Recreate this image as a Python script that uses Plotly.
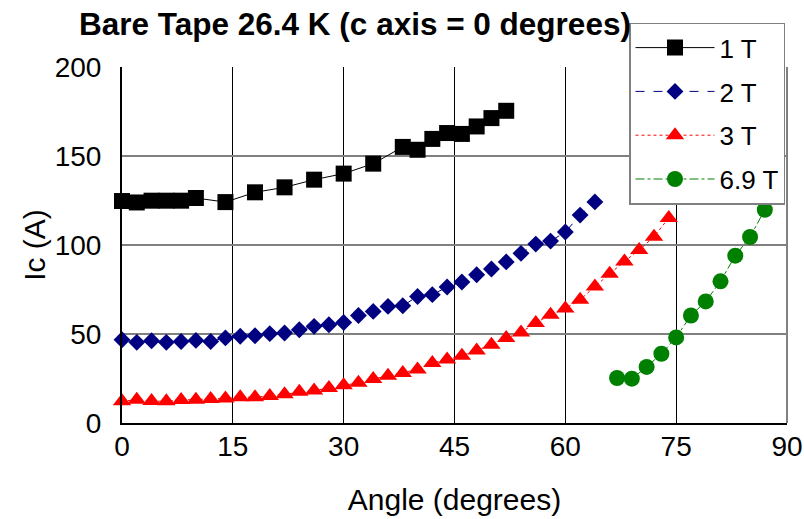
import plotly.graph_objects as go

# ---- data ----
angle_1T = [0, 2, 4, 6, 8, 10, 14, 18, 22, 26, 30, 34, 38, 40, 42, 44, 46, 48, 50, 52]
ic_1T = [124.7, 123.9, 124.9, 124.9, 124.9, 126.4, 124.1, 129.6, 132.4, 136.7,
         140.1, 145.7, 155.1, 153.5, 159.6, 162.9, 162.4, 166.6, 171.3, 175.4]

angle_2T = [0, 2, 4, 6, 8, 10, 12, 14, 16, 18, 20, 22, 24, 26, 28, 30, 32, 34, 36, 38,
            40, 42, 44, 46, 48, 50, 52, 54, 56, 58, 60, 62, 64]
ic_2T = [46.8, 45.3, 46.2, 45.3, 45.8, 46.4, 45.8, 47.8, 48.7, 49.0, 50.2, 50.6, 52.4,
         54.3, 55.2, 56.5, 60.4, 62.7, 65.5, 65.9, 71.1, 72.1, 76.4, 79.2, 83.3, 86.5,
         90.5, 95.3, 100.5, 102.2, 107.3, 116.8, 124.2]

angle_3T = [0, 2, 4, 6, 8, 10, 12, 14, 16, 18, 20, 22, 24, 26, 28, 30, 32, 34, 36, 38,
            40, 42, 44, 46, 48, 50, 52, 54, 56, 58, 60, 62, 64, 66, 68, 70, 72, 74]
ic_3T = [12.2, 13.1, 12.3, 12.2, 12.9, 13.1, 13.5, 13.8, 14.5, 14.5, 15.2, 16.2, 17.5,
         18.2, 19.7, 21.2, 22.6, 24.7, 26.6, 28.1, 30.1, 33.7, 35.7, 37.8, 40.8, 44.0,
         47.7, 50.9, 56.2, 60.8, 64.3, 69.2, 76.7, 83.9, 90.8, 97.2, 104.7, 115.2]

angle_69T = [67, 69, 71, 73, 75, 77, 79, 81, 83, 85, 87]
ic_69T = [25.3, 24.9, 31.5, 38.9, 48.1, 60.4, 68.3, 79.6, 94.0, 104.5, 119.8]

x_ticks = [0, 15, 30, 45, 60, 75, 90]
y_ticks = [0, 50, 100, 150, 200]

FONT = "Liberation Sans, Arial, sans-serif"

fig = go.Figure()
fig.add_trace(go.Scatter(x=angle_1T, y=ic_1T, name="1 T", mode="lines+markers",
                         legendgroup="g1",
                         line=dict(color="black", width=1),
                         marker=dict(symbol="square", size=16, color="black"),
                         cliponaxis=False))
fig.add_trace(go.Scatter(x=angle_2T, y=ic_2T, name="2 T", mode="lines+markers",
                         legendgroup="g2",
                         line=dict(color="#000080", width=1, dash="dash"),
                         marker=dict(symbol="diamond", size=13, color="#000080"),
                         cliponaxis=False))
fig.add_trace(go.Scatter(x=angle_3T, y=ic_3T, name="3 T", mode="lines+markers",
                         legendgroup="g3",
                         line=dict(color="#FF0000", width=1, dash="dot"),
                         marker=dict(symbol="triangle-up", size=16, color="#FF0000"),
                         cliponaxis=False))
fig.add_trace(go.Scatter(x=angle_69T, y=ic_69T, name="6.9 T", mode="lines+markers",
                         legendgroup="g4",
                         line=dict(color="#008000", width=1, dash="dashdot"),
                         marker=dict(symbol="circle", size=16, color="#008000"),
                         cliponaxis=False))

fig.update_layout(
    width=804, height=519,
    margin=dict(l=122, r=17, t=67, b=96, autoexpand=False),
    paper_bgcolor="white", plot_bgcolor="white",
    font=dict(family=FONT, color="black", size=28),
    title=dict(text="Bare Tape 26.4 K (c axis = 0 degrees)",
               font=dict(family=FONT, size=31.5, weight="bold", color="black"),
               x=355 / 804, xref="container", xanchor="center",
               y=1 - 24 / 519, yref="container", yanchor="middle"),
    showlegend=True,
    legend=dict(x=629 / 804, xref="container", xanchor="left",
                y=1 - 22.7 / 519, yref="container", yanchor="top",
                bgcolor="white", bordercolor="#808080", borderwidth=1.5,
                font=dict(family=FONT, size=26, color="black"),
                itemwidth=79, tracegroupgap=7, traceorder="grouped"),
    xaxis=dict(range=[0, 90], tickvals=x_ticks, ticktext=[str(v) for v in x_ticks],
               showgrid=True, gridcolor="black", gridwidth=1,
               showline=True, linecolor="black", linewidth=2,
               ticks="", ticklabelstandoff=-3, zeroline=False,
               tickfont=dict(size=28),
               title=dict(text="Angle (degrees)", font=dict(size=30), standoff=28)),
    yaxis=dict(range=[0, 200], tickvals=y_ticks, ticktext=[str(v) for v in y_ticks],
               showgrid=True, gridcolor="#808080", gridwidth=1.5,
               showline=True, linecolor="black", linewidth=2,
               ticks="", ticklabelstandoff=13, zeroline=False,
               tickfont=dict(size=28),
               title=dict(text="Ic (A)", font=dict(size=30), standoff=0)),
    shapes=[dict(type="line", xref="paper", yref="paper", x0=1, x1=1, y0=0, y1=1,
                 line=dict(color="#808080", width=2))],
)

fig.write_html("out.html", config={"displayModeBar": False},
               post_script="document.body.style.margin='0';")
